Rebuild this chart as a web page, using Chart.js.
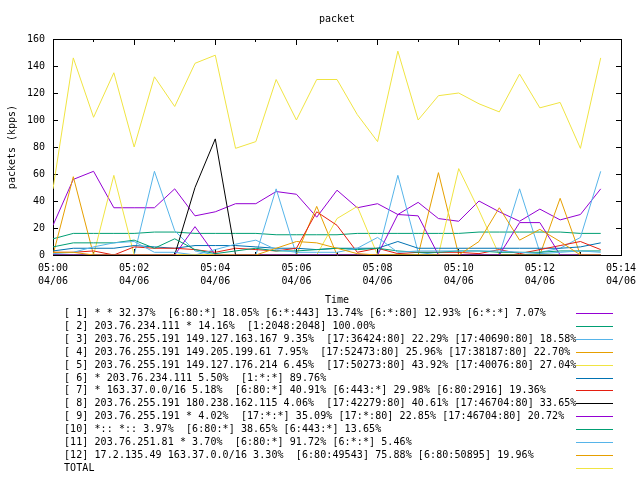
<!DOCTYPE html>
<html><head><meta charset="utf-8">
<script src="https://cdn.jsdelivr.net/npm/chart.js@4.4.1/dist/chart.umd.min.js"></script>
<style>
html,body{margin:0;padding:0;background:#fff;}
#wrap{position:relative;width:640px;height:480px;overflow:hidden;}
canvas{position:absolute;left:0;top:0;}
#legend{position:absolute;left:0;top:0;width:640px;height:480px;pointer-events:none;font-family:"DejaVu Sans Mono",monospace;font-size:10px;color:#000;}
.row{position:absolute;left:64px;height:13px;line-height:13px;white-space:pre;letter-spacing:0.08px;}
.sample{position:absolute;left:576px;width:37px;height:1px;}
</style></head><body>
<div id="wrap"><canvas id="c" width="640" height="480"></canvas><div id="legend"></div></div>
<script>
// x positions in minutes after 05:00 (one sample every 30 s)
const minutes = [0,0.5,1,1.5,2,2.5,3,3.5,4,4.5,5,5.5,6,6.5,7,7.5,8,8.5,9,9.5,10,10.5,11,11.5,12,12.5,13,13.5];
const timeTicks = ['05:00','05:02','05:04','05:06','05:08','05:10','05:12','05:14'];
const dateTick = '04/06';

const s1  = [22,56,62,35,35,35,49,29,32,38,38,47,45,28,48,35,38,30,39,27,25,40,32,25,34,26,30,49];
const s2  = [12,16,16,16,16,17,17,16,16,16,16,15,15,15,15,16,16,16,16,16,16,17,17,17,17,17,16,16];
const s3  = [0,0,0,0,0,62,18,3,0,0,0,49,0,0,0,0,0,59,2,0,0,0,0,49,2,5,13,62];
const s4  = [0,58,0,0,0,0,0,0,0,0,0,0,0,36,0,0,0,0,0,61,0,0,0,0,0,42,0,0];
const s5  = [0,0,0,59,0,0,0,0,0,0,0,0,0,0,27,36,0,0,0,0,64,33,0,0,0,0,0,0];
const s6  = [3,5,5,5,7,6,5,7,7,7,6,5,5,4,5,5,5,10,5,5,5,5,5,5,5,5,6,9];
const s7  = [2,2,3,0,6,5,5,4,2,5,4,3,5,32,22,2,5,1,2,2,2,1,4,1,4,7,10,4];
const s8  = [0,0,0,0,0,0,0,50,86,0,0,0,0,0,0,0,0,0,0,0,0,0,0,0,0,0,0,0];
const s9  = [0,0,0,0,0,0,0,21,0,0,0,0,0,0,0,0,0,30,29,0,0,0,0,24,24,0,0,0];
const s10 = [6,9,9,9,11,5,12,4,1,3,5,3,3,4,5,4,5,3,2,2,3,3,2,2,2,3,3,3];
const s11 = [1,2,6,9,10,2,2,0,4,8,11,4,2,2,2,5,13,2,3,3,3,3,3,2,1,2,3,2];
const s12 = [2,2,0,0,0,0,0,0,0,0,0,5,10,9,5,1,0,0,0,0,0,10,35,11,19,10,0,0];
const total = [49,146,102,135,80,132,110,142,148,79,84,130,100,130,130,104,84,151,100,118,120,112,106,134,109,113,79,146];

const legendLabels = [
 '[ 1] * * 32.37%  [6:80:*] 18.05% [6:*:443] 13.74% [6:*:80] 12.93% [6:*:*] 7.07%',
 '[ 2] 203.76.234.111 * 14.16%  [1:2048:2048] 100.00%',
 '[ 3] 203.76.255.191 149.127.163.167 9.35%  [17:36424:80] 22.29% [17:40690:80] 18.58%',
 '[ 4] 203.76.255.191 149.205.199.61 7.95%  [17:52473:80] 25.96% [17:38187:80] 22.70%',
 '[ 5] 203.76.255.191 149.127.176.214 6.45%  [17:50273:80] 43.92% [17:40076:80] 27.04%',
 '[ 6] * 203.76.234.111 5.50%  [1:*:*] 89.76%',
 '[ 7] * 163.37.0.0/16 5.18%  [6:80:*] 40.91% [6:443:*] 29.98% [6:80:2916] 19.36%',
 '[ 8] 203.76.255.191 180.238.162.115 4.06%  [17:42279:80] 40.61% [17:46704:80] 33.65%',
 '[ 9] 203.76.255.191 * 4.02%  [17:*:*] 35.09% [17:*:80] 22.85% [17:46704:80] 20.72%',
 '[10] *:: *:: 3.97%  [6:80:*] 38.65% [6:443:*] 13.65%',
 '[11] 203.76.251.81 * 3.70%  [6:80:*] 91.72% [6:*:*] 5.46%',
 '[12] 17.2.135.49 163.37.0.0/16 3.30%  [6:80:49543] 75.88% [6:80:50895] 19.96%',
 'TOTAL'
];
const seriesColors = ['#9400d3','#009e73','#56b4e9','#e69f00','#f0e442','#0072b2','#e51e10','#000000',
                      '#9400d3','#009e73','#56b4e9','#e69f00','#f0e442'];
const seriesValues = [s1,s2,s3,s4,s5,s6,s7,s8,s9,s10,s11,s12,total];

const FONT = '"DejaVu Sans Mono", monospace';
Chart.defaults.font.family = FONT;
Chart.defaults.font.size = 10;
Chart.defaults.color = '#000';

const datasets = seriesValues.map((vals, i) => ({
  label: legendLabels[i],
  data: vals.map((v, j) => ({x: minutes[j], y: v})),
  borderColor: seriesColors[i],
  backgroundColor: seriesColors[i],
  borderWidth: 1,
  pointRadius: 0,
  fill: false,
  tension: 0,
  order: -i
}));

const tickGrid = (len) => ({display: true, drawOnChartArea: false, drawTicks: true, tickLength: len, color: '#000', tickWidth: 1});

new Chart(document.getElementById('c'), {
  type: 'line',
  data: {datasets},
  options: {
    responsive: false,
    animation: false,
    devicePixelRatio: 1,
    layout: {padding: {left: 0, right: 0, top: 0, bottom: 174}},
    plugins: {
      legend: {display: false},
      tooltip: {enabled: false},
      title: {display: true, text: 'packet', fullSize: false, color: '#000',
              font: {family: FONT, size: 10, weight: 'normal'}, padding: {top: 13, bottom: 14}}
    },
    scales: {
      x: {
        type: 'linear', position: 'bottom', min: 0, max: 14,
        ticks: {stepSize: 2, padding: 13, maxRotation: 0, autoSkip: false,
                font: {family: FONT, size: 10, lineHeight: '13px'},
                callback: (v) => [timeTicks[Math.round(v / 2)], dateTick]},
        grid: tickGrid(-6),
        border: {display: true, color: '#000', width: 1},
        title: {display: true, text: 'Time', padding: {top: 0, bottom: 0}, font: {family: FONT, size: 10}},
        afterFit: (s) => { s.height = 51; s.paddingLeft = 0; s.paddingRight = 0; }
      },
      xMinor: {
        type: 'linear', position: 'bottom', min: 0, max: 14, weight: -1,
        ticks: {display: false, stepSize: 1},
        grid: tickGrid(-3),
        border: {display: false},
        afterFit: (s) => { s.height = 0; s.paddingLeft = 0; s.paddingRight = 0; }
      },
      xTop: {
        type: 'linear', position: 'top', min: 0, max: 14,
        ticks: {display: false, stepSize: 2},
        grid: tickGrid(-6),
        border: {display: true, color: '#000', width: 1},
        afterFit: (s) => { s.height = 0; s.paddingLeft = 0; s.paddingRight = 0; }
      },
      xTopMinor: {
        type: 'linear', position: 'top', min: 0, max: 14, weight: -1,
        ticks: {display: false, stepSize: 1},
        grid: tickGrid(-3),
        border: {display: false},
        afterFit: (s) => { s.height = 0; s.paddingLeft = 0; s.paddingRight = 0; }
      },
      y: {
        type: 'linear', position: 'left', min: 0, max: 160,
        ticks: {stepSize: 20, padding: 13},
        grid: tickGrid(-5),
        border: {display: true, color: '#000', width: 1},
        title: {display: true, text: 'packets (kpps)', padding: {top: 6, bottom: 0}, font: {family: FONT, size: 10}},
        afterFit: (s) => { s.width = 53; }
      },
      yRight: {
        type: 'linear', position: 'right', min: 0, max: 160,
        ticks: {display: false, stepSize: 20},
        grid: tickGrid(-5),
        border: {display: true, color: '#000', width: 1},
        afterFit: (s) => { s.width = 19; }
      }
    }
  }
});

// legend (text rows with line samples on the right)
const legendEl = document.getElementById('legend');
legendLabels.forEach((txt, i) => {
  const top = 306 + i * 12.9;
  const row = document.createElement('div');
  row.className = 'row';
  row.style.top = top + 'px';
  row.textContent = txt;
  legendEl.appendChild(row);
  const smp = document.createElement('div');
  smp.className = 'sample';
  smp.style.top = Math.round(top + 7) + 'px';
  smp.style.background = seriesColors[i];
  legendEl.appendChild(smp);
});
</script>
</body></html>
